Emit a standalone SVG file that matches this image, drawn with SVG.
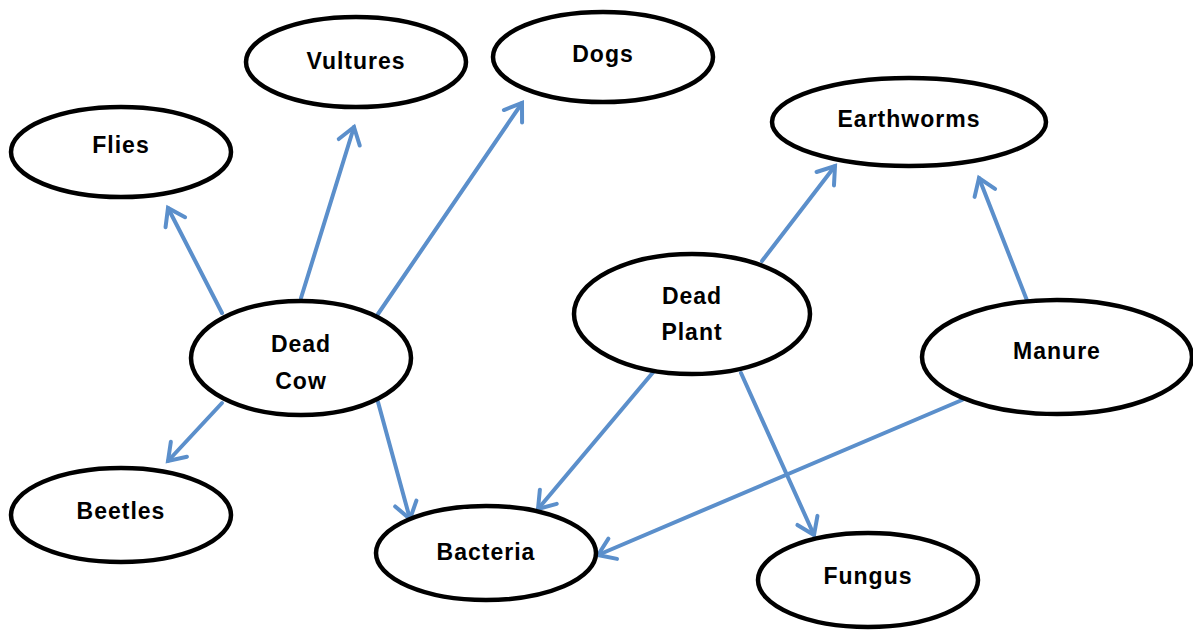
<svg xmlns="http://www.w3.org/2000/svg" width="1193" height="640" viewBox="0 0 1193 640">
<style>
.n ellipse{fill:#fff;stroke:#000;stroke-width:4.5}
.n text{font-family:"Liberation Sans",Arial,sans-serif;font-weight:bold;font-size:23px;letter-spacing:1px;text-anchor:middle;fill:#000}
.c line{stroke:#5B8FCB;stroke-width:4;stroke-linecap:round;marker-end:url(#ah)}
</style>
<defs>
<marker id="ah" markerUnits="userSpaceOnUse" markerWidth="40" markerHeight="40" viewBox="-25 -20 30 40" refX="0" refY="0" orient="auto">
<path d="M-16,-11 L0,0 L-16,11" fill="none" stroke="#5B8FCB" stroke-width="4" stroke-linecap="round" stroke-linejoin="miter"/>
</marker>
</defs>
<rect width="1193" height="640" fill="#fff"/>
<g class="c" id="connectors">
<line x1="222" y1="313" x2="168" y2="208"/>
<line x1="301" y1="298" x2="354" y2="127"/>
<line x1="378" y1="314" x2="522" y2="103"/>
<line x1="222" y1="403" x2="168" y2="461"/>
<line x1="378" y1="402" x2="410" y2="519"/>
<line x1="762" y1="261" x2="835" y2="166"/>
<line x1="655" y1="370" x2="538" y2="509"/>
<line x1="741" y1="373" x2="814" y2="535"/>
<line x1="1028" y1="303" x2="979" y2="178"/>
<line x1="962" y1="400" x2="598" y2="555"/>
</g>
<g class="n" id="vultures"><ellipse cx="356" cy="62" rx="110" ry="45"/><text x="356" y="69">Vultures</text></g>
<g class="n" id="dogs"><ellipse cx="603" cy="57" rx="110" ry="45"/><text x="603" y="62">Dogs</text></g>
<g class="n" id="flies"><ellipse cx="121" cy="152" rx="110" ry="45"/><text x="121" y="153">Flies</text></g>
<g class="n" id="earthworms"><ellipse cx="909" cy="122" rx="137" ry="44"/><text x="909" y="127">Earthworms</text></g>
<g class="n" id="deadcow"><ellipse cx="301" cy="358" rx="110" ry="57"/><text x="301" y="352">Dead</text><text x="301" y="389">Cow</text></g>
<g class="n" id="deadplant"><ellipse cx="692" cy="314" rx="118" ry="60"/><text x="692" y="304">Dead</text><text x="692" y="340">Plant</text></g>
<g class="n" id="manure"><ellipse cx="1057" cy="357" rx="135" ry="57"/><text x="1057" y="359">Manure</text></g>
<g class="n" id="beetles"><ellipse cx="121" cy="515" rx="110" ry="47"/><text x="121" y="519">Beetles</text></g>
<g class="n" id="bacteria"><ellipse cx="486" cy="553" rx="110" ry="47"/><text x="486" y="560">Bacteria</text></g>
<g class="n" id="fungus"><ellipse cx="868" cy="580" rx="110" ry="47"/><text x="868" y="584">Fungus</text></g>
</svg>
